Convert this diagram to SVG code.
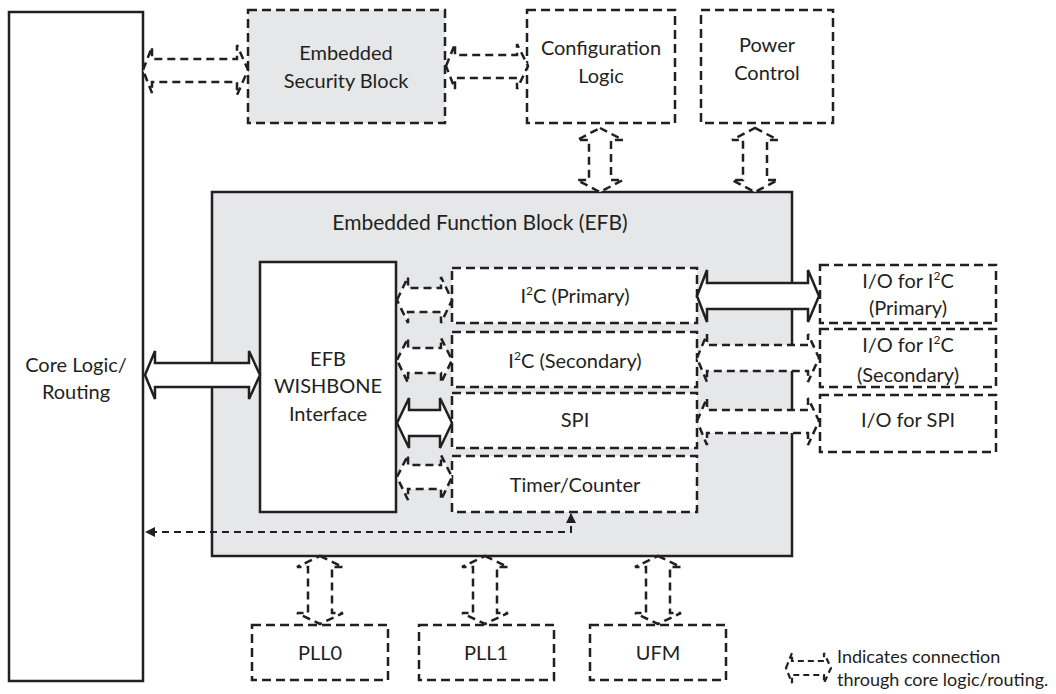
<svg xmlns="http://www.w3.org/2000/svg" width="1056" height="694" viewBox="0 0 1056 694">
<defs>
<style>
.solid{fill:#fff;stroke:#231f20;stroke-width:2.5}
.gray{fill:#e6e7e8;stroke:#231f20;stroke-width:2.5}
.dash{fill:#fff;stroke:#231f20;stroke-width:2.5;stroke-dasharray:9 5}
.dashg{fill:#e6e7e8;stroke:#231f20;stroke-width:2.5;stroke-dasharray:9 5}
.arr{fill:#fff;stroke:#231f20;stroke-width:2.5;stroke-linejoin:miter}
.darr{fill:#fff;stroke:#231f20;stroke-width:2.5;stroke-dasharray:8 5}
.line{fill:none;stroke:#231f20;stroke-width:2;stroke-dasharray:7 5}
text{font-family:Lato,"Liberation Sans",sans-serif;font-size:20px;fill:#231f20;text-anchor:middle}
.title{font-size:21px}
.leg{font-size:18px;text-anchor:start}
</style>
<marker id="ah" viewBox="0 0 10 10" refX="9" refY="5" markerWidth="10" markerHeight="10" markerUnits="userSpaceOnUse" orient="auto-start-reverse">
<path d="M0,0 L10,5 L0,10 Z" fill="#231f20"/>
</marker>
</defs>

<g id="core">
<rect class="solid" x="9" y="12" width="134" height="669"/>
<text x="76" y="372">Core Logic/</text>
<text x="76" y="399">Routing</text>
</g>

<g id="security">
<rect class="dashg" x="248" y="10" width="197" height="113"/>
<text x="346" y="60">Embedded</text>
<text x="346" y="88">Security Block</text>
</g>

<g id="config">
<rect class="dash" x="527" y="10" width="148" height="113"/>
<text x="601" y="55">Configuration</text>
<text x="601" y="83">Logic</text>
</g>

<g id="power">
<rect class="dash" x="701" y="10" width="132" height="113"/>
<text x="767" y="52">Power</text>
<text x="767" y="80">Control</text>
</g>

<g id="efb">
<rect class="gray" x="212" y="192" width="580" height="364"/>
<text class="title" x="480" y="230">Embedded Function Block (EFB)</text>
</g>

<g id="wishbone">
<rect class="solid" x="260" y="262" width="136" height="250"/>
<text x="328" y="366">EFB</text>
<text x="328" y="393">WISHBONE</text>
<text x="328" y="421">Interface</text>
</g>

<g id="i2c-primary">
<rect class="dash" x="452" y="268" width="245" height="55"/>
<text x="575" y="303">I<tspan font-size="12" dy="-8">2</tspan><tspan dy="8">C (Primary)</tspan></text>
</g>

<g id="i2c-secondary">
<rect class="dash" x="452" y="332" width="245" height="55"/>
<text x="575" y="368">I<tspan font-size="12" dy="-8">2</tspan><tspan dy="8">C (Secondary)</tspan></text>
</g>

<g id="spi">
<rect class="dash" x="452" y="393" width="245" height="55"/>
<text x="575" y="427">SPI</text>
</g>

<g id="timer">
<rect class="dash" x="452" y="456" width="245" height="56"/>
<text x="575" y="492">Timer/Counter</text>
</g>

<g id="io-i2c-primary">
<rect class="dash" x="820" y="265" width="176" height="58"/>
<text x="908" y="288">I/O for I<tspan font-size="12" dy="-8">2</tspan><tspan dy="8">C</tspan></text>
<text x="908" y="315">(Primary)</text>
</g>

<g id="io-i2c-secondary">
<rect class="dash" x="820" y="329" width="176" height="58"/>
<text x="908" y="352">I/O for I<tspan font-size="12" dy="-8">2</tspan><tspan dy="8">C</tspan></text>
<text x="908" y="382">(Secondary)</text>
</g>

<g id="io-spi">
<rect class="dash" x="820" y="395" width="176" height="57"/>
<text x="908" y="427">I/O for SPI</text>
</g>

<g id="pll0">
<rect class="dash" x="252" y="625" width="136" height="55"/>
<text x="320" y="660">PLL0</text>
</g>

<g id="pll1">
<rect class="dash" x="419" y="625" width="135" height="55"/>
<text x="486" y="660">PLL1</text>
</g>

<g id="ufm">
<rect class="dash" x="590" y="625" width="136" height="55"/>
<text x="658" y="660">UFM</text>
</g>

<g id="connectors">
<!-- core <-> security -->
<path class="darr" d="M143,70 L152,47 L152,59 L237,59 L237,45 L248,70 L237,95 L237,82 L152,82 L152,93 Z"/>
<!-- security <-> config -->
<path class="darr" d="M446,66 L455,44 L455,55 L517,55 L517,44 L528,66 L517,89 L517,78 L455,78 L455,89 Z"/>
<!-- config <-> efb -->
<path class="darr" d="M600,128 L623,140 L611,140 L611,180 L623,180 L600,192 L577,180 L589,180 L589,140 L577,140 Z"/>
<!-- power <-> efb -->
<path class="darr" d="M755,128 L778,140 L767,140 L767,180 L778,180 L755,192 L732,180 L743,180 L743,140 L732,140 Z"/>
<!-- core <-> wishbone (solid) -->
<path class="arr" d="M145,375 L155,351 L155,363 L249,363 L249,351 L260,375 L249,399 L249,387 L155,387 L155,399 Z"/>
<!-- wishbone <-> sub-blocks -->
<path class="darr" d="M397,300 L408,277 L408,288 L441,288 L441,277 L452,300 L441,323 L441,312 L408,312 L408,323 Z"/>
<path class="darr" d="M397,360 L408,338 L408,348 L441,348 L441,338 L452,360 L441,383 L441,373 L408,373 L408,383 Z"/>
<path class="arr" d="M397,423 L409,398 L409,410 L440,410 L440,398 L452,423 L440,448 L440,436 L409,436 L409,448 Z"/>
<path class="darr" d="M397,477 L408,455 L408,465 L441,465 L441,455 L452,477 L441,500 L441,489 L408,489 L408,500 Z"/>
<!-- sub-blocks <-> IO -->
<path class="arr" d="M697,296 L707,270 L707,283 L808,283 L808,270 L819,296 L808,322 L808,309 L707,309 L707,322 Z"/>
<path class="darr" d="M697,358 L707,334 L707,345 L808,345 L808,334 L819,358 L808,382 L808,371 L707,371 L707,382 Z"/>
<path class="darr" d="M697,421 L707,398 L707,410 L808,410 L808,398 L819,421 L808,445 L808,433 L707,433 L707,445 Z"/>
<!-- efb <-> pll0, pll1, ufm -->
<path class="darr" d="M320,556 L343,567 L332,567 L332,613 L343,613 L320,624 L297,613 L308,613 L308,567 L297,567 Z"/>
<path class="darr" d="M485,556 L508,567 L497,567 L497,613 L508,613 L485,624 L462,613 L473,613 L473,567 L462,567 Z"/>
<path class="darr" d="M658,556 L681,567 L670,567 L670,613 L681,613 L658,624 L635,613 L646,613 L646,567 L635,567 Z"/>
<!-- timer -> core -->
<path class="line" d="M571,514 V532 H146" marker-start="url(#ah)" marker-end="url(#ah)"/>
</g>

<g id="legend">
<path class="darr" style="stroke-width:2.2;stroke-dasharray:6 4" d="M786,668 L792,653 L792,661 L824,661 L824,653 L831,668 L824,683 L824,675 L792,675 L792,683 Z"/>
<text class="leg" x="837" y="663">Indicates connection</text>
<text class="leg" x="837" y="686">through core logic/routing.</text>
</g>
</svg>
